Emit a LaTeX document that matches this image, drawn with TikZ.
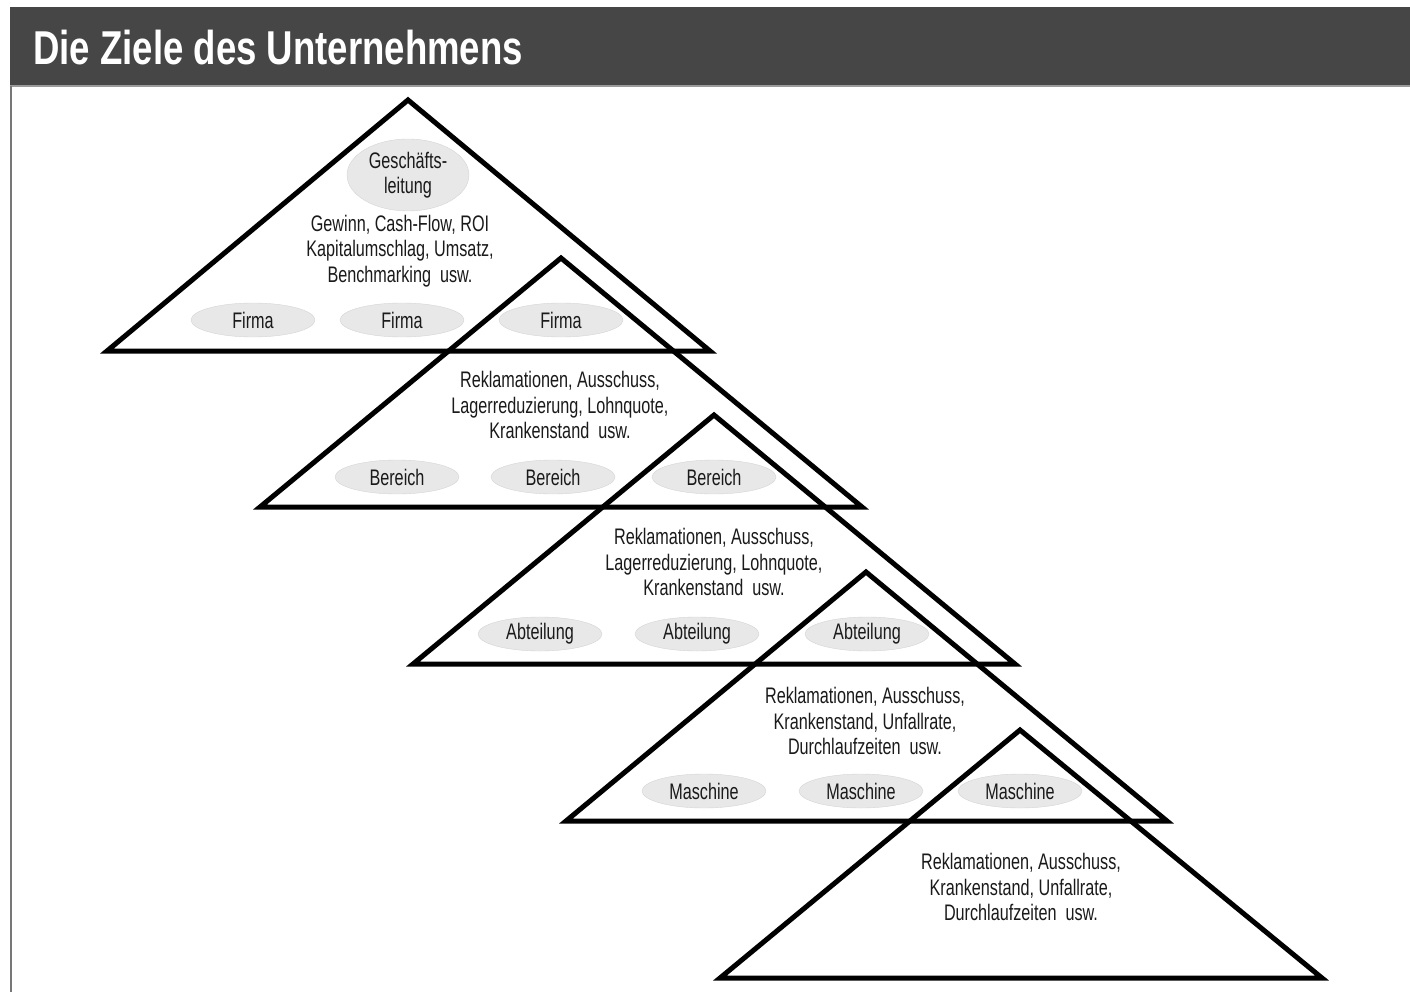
\documentclass[tikz,border=0pt]{standalone}
\usepackage{fontspec}
\setmainfont[FakeStretch=0.72]{Liberation Sans}
\newfontfamily\titlefont[FakeStretch=0.77]{Liberation Sans}
\usepackage{tikz}
\usetikzlibrary{positioning,shapes.geometric}
\definecolor{headbg}{HTML}{464646}
\definecolor{headln}{HTML}{9A9A9A}
\definecolor{edgeln}{HTML}{777777}
\definecolor{ovalbg}{HTML}{E8E8E8}
\definecolor{ovalln}{HTML}{D4D4D4}
\definecolor{inkx}{HTML}{1A1A1A}
\tikzset{
  tri/.style={line width=5pt,black,line join=miter},
  oval/.style={ellipse,fill=ovalbg,draw=ovalln,thin,minimum width=124pt,minimum height=34pt,inner sep=0pt,font=\fontsize{22.5}{25.5}\selectfont,text=inkx},
  bigoval/.style={oval,align=center,minimum width=122pt,minimum height=72pt},
  goals/.style={align=center,inner sep=0pt,font=\fontsize{22.5}{25.5}\selectfont,text=inkx},
  head/.style={anchor=base west,inner sep=0pt,text=white,font=\titlefont\fontsize{47.5}{48}\selectfont\bfseries}
}

\begin{document}
\begin{tikzpicture}[x=1pt,y=-1pt]
\useasboundingbox (0,0) rectangle (1410,992);
% header bar
\fill[headbg] (10,7) rectangle (1410,85);
\draw[headln,line width=1.5pt] (10,86) -- (1410,86);
\draw[edgeln,line width=1.5pt] (11,86) -- (11,992);
\node[head] (title) at (33,65) {Die Ziele des Unternehmens};
% the five levels
\draw[tri] (408,100) -- (107,351) -- (710,351) -- cycle;
\draw[tri] (561,258) -- (260,507) -- (862,507) -- cycle;
\draw[tri] (714,415) -- (413,664) -- (1015,664) -- cycle;
\draw[tri] (866,572) -- (566,821) -- (1167,821) -- cycle;
\draw[tri] (1020,730) -- (720,978) -- (1322,978) -- cycle;
% Geschaeftsleitung
\node[bigoval] (gl) at (408,175) {Geschäfts-\\leitung};
\node[goals] (zgl) at (400,251) {Gewinn, Cash-Flow, ROI\\Kapitalumschlag, Umsatz,\\Benchmarking~ usw.};
\node[oval] (fa1) at (253,320) {Firma};
\node[oval] (fa2) at (402,320) {Firma};
\node[oval] (fa3) at (561,320) {Firma};
% Firma
\node[goals] (zfa) at (560,405) {Reklamationen, Ausschuss,\\Lagerreduzierung, Lohnquote,\\Krankenstand~ usw.};
\node[oval] (be1) at (397,477) {Bereich};
\node[oval] (be2) at (553,477) {Bereich};
\node[oval] (be3) at (714,477) {Bereich};
% Bereich
\node[goals] (zbe) at (714,562) {Reklamationen, Ausschuss,\\Lagerreduzierung, Lohnquote,\\Krankenstand~ usw.};
\node[oval] (ab1) at (540,634) {Abteilung};
\node[oval] (ab2) at (697,634) {Abteilung};
\node[oval] (ab3) at (867,634) {Abteilung};
% Abteilung
\node[goals] (zab) at (865,721) {Reklamationen, Ausschuss,\\Krankenstand, Unfallrate,\\Durchlaufzeiten~ usw.};
\node[oval] (ma1) at (704,791) {Maschine};
\node[oval] (ma2) at (861,791) {Maschine};
\node[oval] (ma3) at (1020,791) {Maschine};
% Maschine
\node[goals] (zma) at (1021,887) {Reklamationen, Ausschuss,\\Krankenstand, Unfallrate,\\Durchlaufzeiten~ usw.};
\end{tikzpicture}
\end{document}
